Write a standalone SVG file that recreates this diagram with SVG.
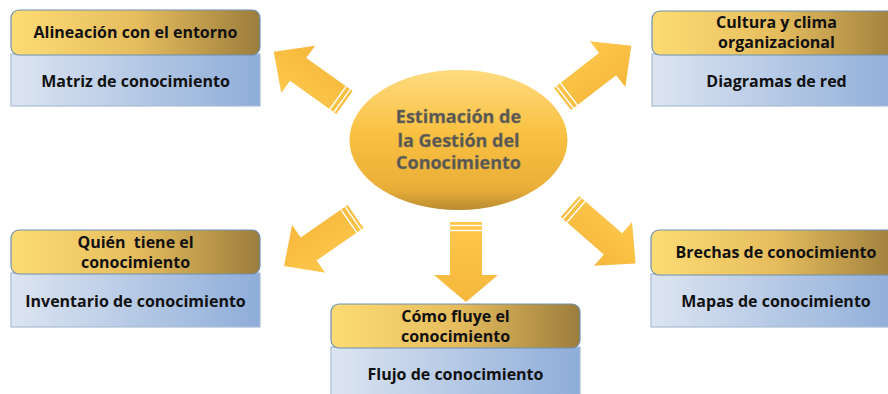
<svg xmlns="http://www.w3.org/2000/svg" width="888" height="394" viewBox="0 0 888 394">
<defs>
<linearGradient id="gHead" x1="0" y1="0" x2="1" y2="0">
<stop offset="0" stop-color="#FDDC74"/>
<stop offset="0.5" stop-color="#E6BD5E"/>
<stop offset="1" stop-color="#9C7D3C"/>
</linearGradient>
<linearGradient id="gBody" x1="0" y1="0" x2="1" y2="0">
<stop offset="0" stop-color="#DDE5F1"/>
<stop offset="1" stop-color="#8EADD9"/>
</linearGradient>
<linearGradient id="gEll" x1="0" y1="0" x2="0" y2="1">
<stop offset="0" stop-color="#FEDB80"/>
<stop offset="0.45" stop-color="#F9C142"/>
<stop offset="0.85" stop-color="#E9AE38"/>
<stop offset="1" stop-color="#B98B30"/>
</linearGradient>
<linearGradient id="gArr" x1="0" y1="0" x2="0" y2="1">
<stop offset="0" stop-color="#FDC84C"/>
<stop offset="1" stop-color="#F5B73B"/>
</linearGradient>
<path id="arr" d="M0,-14 L57,-14 L57,-29 L87,0 L57,29 L57,14 L0,14 Z"/>
</defs>
<style>
.head{fill:url(#gHead);stroke:#6F8FB0;stroke-width:1.2}
.body{fill:url(#gBody);stroke:#A9BCD3;stroke-width:1.2}
.t{font-family:"Open Sans","Liberation Sans",sans-serif;font-weight:bold;font-size:16px;fill:#111;text-anchor:middle}
.c{font-family:"Open Sans","Liberation Sans",sans-serif;font-weight:bold;font-size:18px;fill:#555;text-anchor:middle;stroke:#8a7a50;stroke-width:0.4}
.ar{fill:url(#gArr)}
.st{stroke:#fff;stroke-width:1.4}
</style>
<rect width="888" height="394" fill="#fff"/>

<g id="connectors">
<g transform="translate(344.5,102.5) rotate(215.6)">
<use href="#arr" class="ar"/><line class="st" x1="3" y1="-14" x2="3" y2="14"/><line class="st" x1="8" y1="-14" x2="8" y2="14"/>
</g>
<g transform="translate(562.5,99) rotate(-37.7)">
<use href="#arr" class="ar"/><line class="st" x1="3" y1="-14" x2="3" y2="14"/><line class="st" x1="8" y1="-14" x2="8" y2="14"/>
</g>
<g transform="translate(355.5,216.5) rotate(145.3)">
<use href="#arr" class="ar"/><line class="st" x1="3" y1="-14" x2="3" y2="14"/><line class="st" x1="8" y1="-14" x2="8" y2="14"/>
</g>
<g transform="translate(570,206.5) rotate(41)">
<use href="#arr" class="ar"/><line class="st" x1="3" y1="-14" x2="3" y2="14"/><line class="st" x1="8" y1="-14" x2="8" y2="14"/>
</g>
<g>
<path class="ar" d="M450,222 L482,222 L482,275 L498,275 L466,302 L434,275 L450,275 Z"/>
<line class="st" x1="450" y1="225.5" x2="482" y2="225.5"/><line class="st" x1="450" y1="230.5" x2="482" y2="230.5"/>
</g>
</g>

<g id="center">
<ellipse cx="458.5" cy="140" rx="109" ry="70" fill="url(#gEll)"/>
<text class="c" x="458.5" y="123">Estimación de</text>
<text class="c" x="458.5" y="147">la Gestión del</text>
<text class="c" x="458.5" y="169">Conocimiento</text>
</g>

<g id="n-alineacion">
<rect class="body" x="11" y="54" width="249" height="52"/>
<rect class="head" x="11" y="10" width="249" height="45" rx="8"/>
<text class="t" x="135.5" y="38">Alineación con el entorno</text>
<text class="t" x="135.5" y="87">Matriz de conocimiento</text>
</g>

<g id="n-cultura">
<rect class="body" x="652" y="54" width="249" height="52"/>
<rect class="head" x="652" y="11" width="249" height="44" rx="8"/>
<text class="t" x="776.5" y="28">Cultura y clima</text>
<text class="t" x="776.5" y="48">organizacional</text>
<text class="t" x="776.5" y="87">Diagramas de red</text>
</g>

<g id="n-quien">
<rect class="body" x="11" y="273" width="249" height="54"/>
<rect class="head" x="11" y="230" width="249" height="44" rx="8"/>
<text class="t" x="135.5" y="248" xml:space="preserve">Quién  tiene el</text>
<text class="t" x="135.5" y="268">conocimiento</text>
<text class="t" x="135.5" y="307">Inventario de conocimiento</text>
</g>

<g id="n-como">
<rect class="body" x="331" y="347" width="249" height="54"/>
<rect class="head" x="331" y="304" width="249" height="44" rx="8"/>
<text class="t" x="455.5" y="322">Cómo fluye el</text>
<text class="t" x="455.5" y="342">conocimiento</text>
<text class="t" x="455.5" y="380">Flujo de conocimiento</text>
</g>

<g id="n-brechas">
<rect class="body" x="651" y="274" width="249" height="53"/>
<rect class="head" x="651" y="230" width="249" height="45" rx="8"/>
<text class="t" x="776" y="258">Brechas de conocimiento</text>
<text class="t" x="776" y="307">Mapas de conocimiento</text>
</g>
</svg>
